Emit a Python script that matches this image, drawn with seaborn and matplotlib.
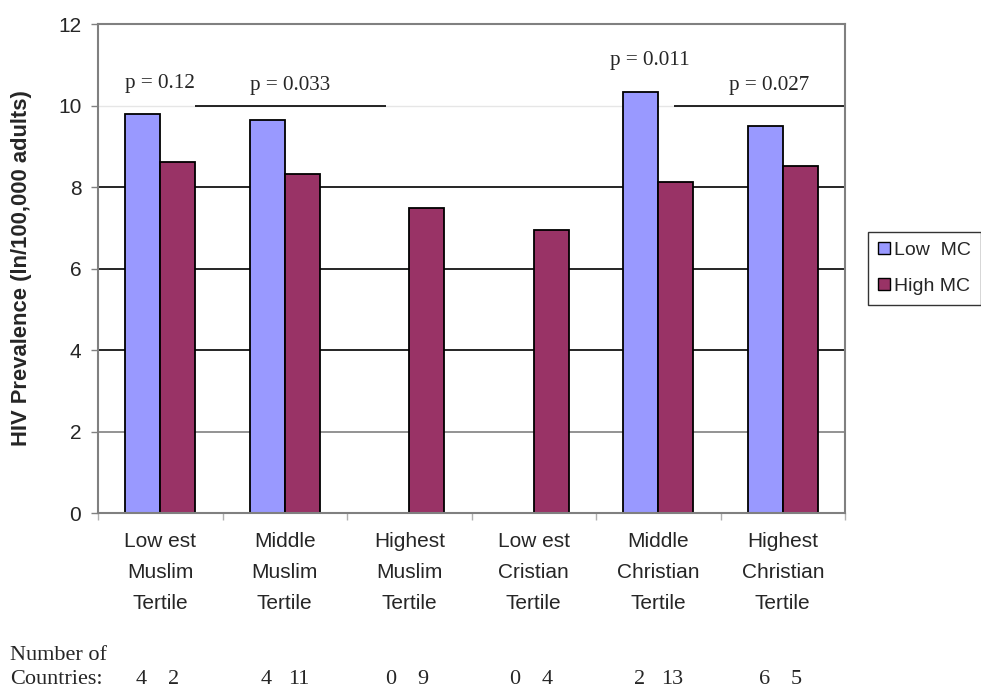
import numpy as np
import pandas as pd
import matplotlib
matplotlib.use("Agg")
import matplotlib.pyplot as plt
import seaborn as sns

# ---- data ----
categories = ["Low est\nMuslim\nTertile", "Middle\nMuslim\nTertile", "Highest\nMuslim\nTertile",
              "Low est\nCristian\nTertile", "Middle\nChristian\nTertile", "Highest\nChristian\nTertile"]
series = ["Low  MC", "High MC"]
low_mc = [9.79, 9.64, np.nan, np.nan, 10.33, 9.49]
high_mc = [8.61, 8.32, 7.48, 6.94, 8.12, 8.52]
n_low = [4, 4, 0, 0, 2, 6]
n_high = [2, 11, 9, 4, 13, 5]
p_labels = ["p = 0.12", "p = 0.033", "p = 0.011", "p = 0.027"]
yticks = [0, 2, 4, 6, 8, 10, 12]

# ---- long table ----
df = pd.DataFrame({
    "group": categories * 2,
    "series": [series[0]] * len(categories) + [series[1]] * len(categories),
    "value": low_mc + high_mc,
}).dropna()

sns.set_style("white")
plt.rcParams["font.family"] = ["Liberation Sans", "DejaVu Sans"]

fig = plt.figure(figsize=(9.81, 6.90), dpi=100)
ax = fig.add_axes([0.0999, 0.2565, 0.7615, 0.7087])

# gridlines (drawn under bars)
ax.set_axisbelow(True)
for yv, col in zip([2, 4, 6, 8], ["#808080", "black", "black", "black"]):
    ax.axhline(yv, color=col, lw=1.2, zorder=0)
ax.axhline(10, color="#e6e6e6", lw=1.0, zorder=0)
ax.hlines(10, 0.28, 1.81, color="black", lw=1.2, zorder=0.5)
ax.hlines(10, 4.13, 5.5, color="black", lw=1.2, zorder=0.5)

sns.barplot(data=df, x="group", y="value", hue="series", order=categories,
            hue_order=series, palette=["#9999FF", "#993366"], saturation=1, width=0.56,
            edgecolor="black", linewidth=1.3, errorbar=None, ax=ax, zorder=2)

ax.set_xlim(-0.5, len(categories) - 0.5)
ax.set_ylim(0, 12)
ax.set_yticks(yticks)
ax.set_yticklabels([str(t) for t in yticks], fontsize=15)
ax.tick_params(axis="y", direction="out", length=5, width=1, color="#808080", pad=7, left=True)

ax.set_xticks(range(len(categories)))
ax.set_xticklabels(categories, fontsize=15, linespacing=1.8)
ax.tick_params(axis="x", which="major", length=0, pad=14)
ax.set_xticks(np.arange(-0.5, len(categories), 1.0), minor=True)
ax.tick_params(axis="x", which="minor", direction="out", length=5, width=1,
               color="#b0b0b0", bottom=True)

ax.set_xlabel("")
ax.set_ylabel("HIV Prevalence (ln/100,000 adults)", fontsize=15.8, fontweight="bold")
ax.yaxis.set_label_coords(-0.088, 0.5)

for s in ax.spines.values():
    s.set_visible(True)
    s.set_color("#808080")
    s.set_linewidth(1.5)

# p-values
serif = ["Liberation Serif", "DejaVu Serif"]
p_pos = [(0.0, 10.55), (1.04, 10.5), (3.93, 11.1), (4.89, 10.5)]
for lab, (xp, yp) in zip(p_labels, p_pos):
    ax.text(xp, yp, lab, ha="center", va="center", fontsize=15.2, family=serif, zorder=3)

# legend
handles, labels = ax.get_legend_handles_labels()
leg = ax.legend(handles, labels, loc="center left", bbox_to_anchor=(0.885, 0.611),
                bbox_transform=fig.transFigure, fontsize=14, frameon=True,
                fancybox=False, shadow=False, handlelength=0.6, handleheight=0.6,
                handletextpad=0.25, labelspacing=1.0, borderpad=0.5, borderaxespad=0)
leg.get_frame().set_edgecolor("black")
leg.get_frame().set_linewidth(1.0)
for h in leg.legend_handles:
    h.set_edgecolor("black")
    h.set_linewidth(1.0)

# country counts
fig.text(10 / 981, 1 - 656 / 690, "Number of", ha="left", va="center", fontsize=16, family=serif)
fig.text(10 / 981, 1 - 680 / 690, "Countries:", ha="left", va="center", fontsize=16, family=serif)
trans = matplotlib.transforms.blended_transform_factory(ax.transData, fig.transFigure)
for i, (a, b) in enumerate(zip(n_low, n_high)):
    fig.text(i - 0.15, 1 - 680 / 690, str(a), ha="center", va="center", fontsize=16,
             family=serif, transform=trans)
    fig.text(i + 0.11, 1 - 680 / 690, str(b), ha="center", va="center", fontsize=16,
             family=serif, transform=trans)

fig.savefig("out.png", dpi=100)
